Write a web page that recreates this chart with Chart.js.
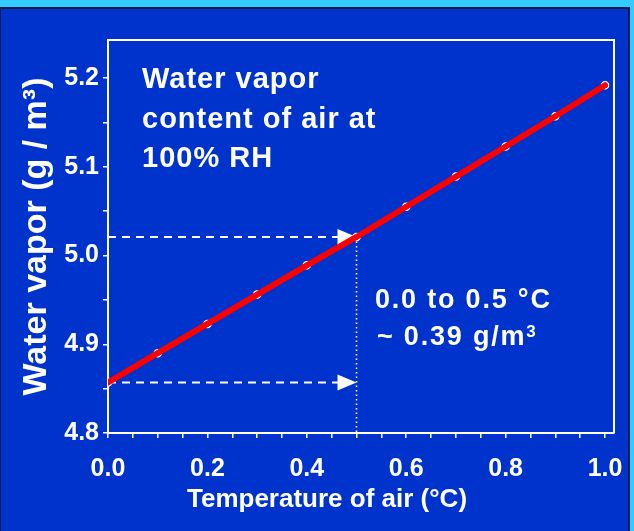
<!DOCTYPE html>
<html>
<head>
<meta charset="utf-8">
<script src="https://cdn.jsdelivr.net/npm/chart.js"></script>
<style>
    html, body { margin: 0; padding: 0; }
    body { background: #33ccff; width: 634px; height: 531px; position: relative; overflow: hidden; }
    #frame {
        position: absolute; left: 0; top: 7px;
        width: 627px; height: 522px;
        background: #0033cc;
        border-top: 2px solid #0b1a4a;
        border-right: 2px solid #0b1a4a;
        border-left: 1px solid #0b1a4a;
    }
    #chart { display: block; }
</style>
</head>
<body>
<div id="frame"><canvas id="chart" width="627" height="522"></canvas></div>
<script>
// 데이터: 기온(°C)과 포화 수증기량(g/m3)
const temps = [0.0, 0.1, 0.2, 0.3, 0.4, 0.5, 0.6, 0.7, 0.8, 0.9, 1.0];
const vapor = [4.857, 4.890, 4.923, 4.956, 4.989, 5.021, 5.055, 5.089, 5.123, 5.157, 5.192];

// 눈금
const xTicks = [0.0, 0.05, 0.1, 0.15, 0.2, 0.25, 0.3, 0.35, 0.4, 0.45, 0.5, 0.55, 0.6, 0.65, 0.7, 0.75, 0.8, 0.85, 0.9, 0.95, 1.0];
const yTicks = [4.8, 4.85, 4.9, 4.95, 5.0, 5.05, 5.1, 5.15, 5.2];
const xLabelStep = 0.2;
const yLabelStep = 0.1;

// 보조선: 0.0 ~ 0.5 °C 구간
const guideFrom = 0.0;
const guideTo = 0.5;

const captionLines = ['Water vapor', 'content of air at', '100% RH'];
const noteLines = ['0.0 to 0.5 °C', '~ 0.39 g/m'];
const xTitle = 'Temperature of air (°C)';

const FONT = '"Liberation Sans", Arial, sans-serif';
const WHITE = '#ffffff';

function isStep(v, step) {
    const k = v / step;
    return Math.abs(k - Math.round(k)) < 1e-6;
}

function vaporAt(t) {
    return vapor[temps.indexOf(t)];
}

const points = temps.map((t, i) => ({ x: t, y: vapor[i] }));

// 화살표 그리기
function drawArrow(ctx, x0, x1, y) {
    ctx.save();
    ctx.strokeStyle = WHITE;
    ctx.lineWidth = 2;
    ctx.setLineDash([8, 6]);
    ctx.beginPath();
    ctx.moveTo(x0, y);
    ctx.lineTo(x1 - 18, y);
    ctx.stroke();
    ctx.setLineDash([]);
    ctx.fillStyle = WHITE;
    ctx.beginPath();
    ctx.moveTo(x1, y);
    ctx.lineTo(x1 - 19, y - 8);
    ctx.lineTo(x1 - 19, y + 8);
    ctx.closePath();
    ctx.fill();
    ctx.restore();
}

const guidePlugin = {
    id: 'guides',
    beforeDatasetsDraw(chart) {
        const { ctx, scales: { x, y } } = chart;
        const xs = x.getPixelForValue(guideFrom);
        const xe = x.getPixelForValue(guideTo);
        const yLow = y.getPixelForValue(vaporAt(guideFrom));
        const yHigh = y.getPixelForValue(vaporAt(guideTo));
        drawArrow(ctx, xs, xe, yLow);
        drawArrow(ctx, xs, xe, yHigh);
        ctx.save();
        ctx.strokeStyle = WHITE;
        ctx.lineWidth = 1.5;
        ctx.setLineDash([1.5, 3]);
        ctx.beginPath();
        ctx.moveTo(xe, yHigh);
        ctx.lineTo(xe, y.getPixelForValue(y.min));
        ctx.stroke();
        ctx.restore();
    },
    afterDraw(chart) {
        const { ctx, chartArea: a } = chart;
        // 위/오른쪽 테두리
        ctx.save();
        ctx.strokeStyle = WHITE;
        ctx.lineWidth = 2;
        ctx.beginPath();
        ctx.moveTo(a.left, a.top);
        ctx.lineTo(a.right, a.top);
        ctx.lineTo(a.right, a.bottom);
        ctx.stroke();

        ctx.fillStyle = WHITE;
        ctx.textAlign = 'left';
        ctx.textBaseline = 'alphabetic';

        ctx.font = 'bold 29px ' + FONT;
        ctx.letterSpacing = '1px';
        captionLines.forEach((s, i) => ctx.fillText(s, a.left + 34, a.top + 48 + i * 39.5));

        ctx.font = 'bold 27px ' + FONT;
        ctx.letterSpacing = '1.8px';
        ctx.fillText(noteLines[0], a.left + 267, a.top + 268);
        ctx.fillText(noteLines[1], a.left + 269, a.top + 305);
        const w = ctx.measureText(noteLines[1]).width;
        ctx.font = 'bold 17px ' + FONT;
        ctx.letterSpacing = '0px';
        ctx.fillText('3', a.left + 269 + w, a.top + 297);

        // x축 제목
        ctx.font = 'bold 26px ' + FONT;
        ctx.textAlign = 'center';
        ctx.fillText(xTitle, 326, 498);
        ctx.restore();
    }
};

new Chart(document.getElementById('chart'), {
    type: 'line',
    data: {
        datasets: [
            {
                data: points,
                borderColor: '#ff0000',
                borderWidth: 6,
                borderCapStyle: 'round',
                pointRadius: 0,
                tension: 0,
                order: 0
            },
            {
                data: points,
                showLine: false,
                pointRadius: 3.5,
                pointBorderWidth: 1.5,
                pointBorderColor: WHITE,
                pointBackgroundColor: '#0033cc',
                order: 1
            }
        ]
    },
    options: {
        responsive: false,
        animation: false,
        events: [],
        layout: { padding: { top: 31, right: 14, left: 0, bottom: 0 } },
        plugins: { legend: { display: false }, tooltip: { enabled: false } },
        scales: {
            x: {
                type: 'linear',
                min: 0,
                max: 1.018,
                afterFit: (s) => { s.height = 98; s.paddingLeft = 0; s.paddingRight = 0; },
                afterBuildTicks: (s) => { s.ticks = xTicks.map(v => ({ value: v })); },
                grid: { drawOnChartArea: false, drawTicks: true, tickLength: 5, color: WHITE, lineWidth: 1.5 },
                border: { display: true, color: WHITE, width: 2 },
                ticks: {
                    autoSkip: false,
                    maxRotation: 0,
                    padding: 16,
                    color: WHITE,
                    font: { family: FONT, size: 25, weight: 'bold' },
                    callback: (v) => isStep(v, xLabelStep) ? v.toFixed(1) : ''
                }
            },
            y: {
                min: 4.8,
                max: 5.243,
                afterFit: (s) => { s.width = 107; s.paddingTop = 0; s.paddingBottom = 0; },
                afterBuildTicks: (s) => { s.ticks = yTicks.map(v => ({ value: v })); },
                grid: { drawOnChartArea: false, drawTicks: true, tickLength: 5, color: WHITE, lineWidth: 1.5 },
                border: { display: true, color: WHITE, width: 2 },
                ticks: {
                    autoSkip: false,
                    padding: 4,
                    color: WHITE,
                    font: { family: FONT, size: 25, weight: 'bold' },
                    callback: (v) => isStep(v, yLabelStep) ? v.toFixed(1) : ''
                },
                title: {
                    display: true,
                    text: 'Water vapor (g / m³)',
                    color: WHITE,
                    font: { family: FONT, size: 34, weight: 'bold' },
                    padding: { top: 15, bottom: 0 }
                }
            }
        }
    },
    plugins: [guidePlugin]
});
</script>
</body>
</html>
